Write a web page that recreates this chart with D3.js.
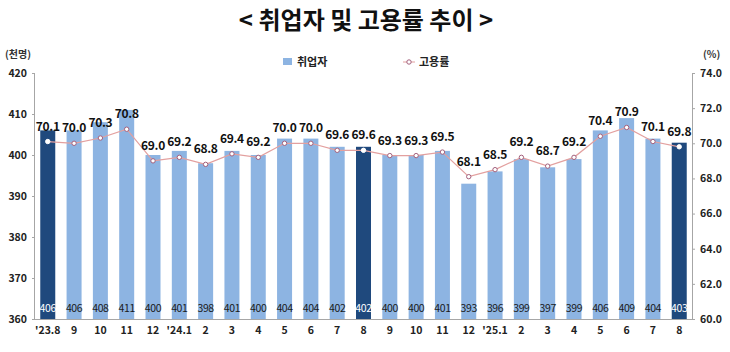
<!DOCTYPE html>
<html>
<head>
<meta charset="utf-8">
<script src="https://cdn.jsdelivr.net/npm/d3@7"></script>
<style>
  body { margin: 0; background: #fff; }
  svg text { font-family: "Noto Sans CJK KR", "Noto Sans", sans-serif; }
</style>
</head>
<body>
<div id="graph"></div>
<script>
// months on the x axis
const months = ["'23.8", "9", "10", "11", "12", "'24.1", "2", "3", "4", "5", "6", "7", "8",
  "9", "10", "11", "12", "'25.1", "2", "3", "4", "5", "6", "7", "8"]
// employed persons (thousands)
const employed = [406, 406, 408, 411, 400, 401, 398, 401, 400, 404, 404, 402, 402,
  400, 400, 401, 393, 396, 399, 397, 399, 406, 409, 404, 403]
// employment rate (%)
const rate = [70.1, 70.0, 70.3, 70.8, 69.0, 69.2, 68.8, 69.4, 69.2, 70.0, 70.0, 69.6, 69.6,
  69.3, 69.3, 69.5, 68.1, 68.5, 69.2, 68.7, 69.2, 70.4, 70.9, 70.1, 69.8]
const leftTicks = [360, 370, 380, 390, 400, 410, 420]
const rightTicks = [60, 62, 64, 66, 68, 70, 72, 74]

const width = 730, height = 352
const margin = { top: 73, right: 38, bottom: 33, left: 35 }
const gWidth = width - margin.left - margin.right
const gHeight = height - margin.top - margin.bottom

const lightBlue = "#8db4e2", darkBlue = "#1f497d"
const lineColor = "#e3a09f", markerStroke = "#a3607c"

const svg = d3.select('#graph').append("svg").attr("width", width).attr("height", height)

// title
svg.append("text").attr("x", 366).attr("y", 29).attr("text-anchor", "middle")
  .style("font-size", "24px").style("font-weight", "bold").attr("fill", "#111")
  .text("< 취업자 및 고용률 추이 >")

svg.append("text").attr("x", 5).attr("y", 58).style("font-size", "10px").style("font-weight", "bold")
  .attr("fill", "#333").text("(천명)")
svg.append("text").attr("x", 703).attr("y", 58).style("font-size", "10px").style("font-weight", "bold")
  .attr("fill", "#333").text("(%)")

// legend
svg.append("rect").attr("x", 283).attr("y", 58).attr("width", 9).attr("height", 7).attr("fill", lightBlue)
svg.append("text").attr("x", 297).attr("y", 66).style("font-size", "11px").style("font-weight", "bold")
  .attr("fill", "#222").text("취업자")
svg.append("line").attr("x1", 403).attr("x2", 415).attr("y1", 62).attr("y2", 62)
  .attr("stroke", lineColor).attr("stroke-width", 1)
svg.append("circle").attr("cx", 409).attr("cy", 62).attr("r", 2.2)
  .attr("fill", "#fff").attr("stroke", markerStroke).attr("stroke-width", 1)
svg.append("text").attr("x", 419).attr("y", 66).style("font-size", "11px").style("font-weight", "bold")
  .attr("fill", "#222").text("고용률")

const graph = svg.append('g').attr("transform", `translate(${margin.left}, ${margin.top})`)

const xScale = d3.scaleBand().domain(d3.range(months.length)).range([0, gWidth]).paddingInner(0.43).paddingOuter(0.2)
const yLeft = d3.scaleLinear().domain([360, 420]).range([gHeight, 0])
const yRight = d3.scaleLinear().domain([60, 74]).range([gHeight, 0])

// same month each year is drawn dark
const isDark = i => (i === 0 || i === 12 || i === 24)

// bars
graph.selectAll('rect.bar').data(employed).enter().append('rect')
  .attr("class", "bar")
  .attr("x", (d, i) => xScale(i))
  .attr("width", xScale.bandwidth())
  .attr("y", d => yLeft(d))
  .attr("height", d => gHeight - yLeft(d))
  .attr("fill", (d, i) => isDark(i) ? darkBlue : lightBlue)

// bar value labels near the bottom
graph.selectAll('text.bval').data(employed).enter().append('text')
  .attr("class", "bval")
  .attr("x", (d, i) => xScale(i) + xScale.bandwidth() / 2)
  .attr("y", gHeight - 7)
  .attr("text-anchor", "middle")
  .style("font-size", "10.5px").style("letter-spacing", "-0.4px")
  .attr("fill", (d, i) => isDark(i) ? "#fff" : "#1a1a1a")
  .text(d => d)

// axes
const leftAxis = graph.append('g').attr("class", "axis")
  .call(d3.axisLeft(yLeft).tickValues(leftTicks).tickSize(3).tickPadding(5))
const rightAxis = graph.append('g').attr("class", "axis").attr("transform", `translate(${gWidth}, 0)`)
  .call(d3.axisRight(yRight).tickValues(rightTicks).tickSize(3).tickPadding(5).tickFormat(d3.format(".1f")))
const bottomAxis = graph.append('g').attr("class", "axis").attr("transform", `translate(0, ${gHeight})`)
  .call(d3.axisBottom(xScale).tickSize(0).tickPadding(8).tickFormat(i => months[i]))

graph.selectAll('.axis path').attr("stroke", "#a6a6a6")
graph.selectAll('.axis line').attr("stroke", "#a6a6a6")
graph.selectAll('.axis text').style("font-size", "10.5px").style("font-weight", "bold").attr("fill", "#222")
  .style("font-family", "\"Noto Sans CJK KR\", sans-serif")
bottomAxis.select('path').attr("d", `M0,0.5H${gWidth}`)
leftAxis.select('path').attr("d", `M-0.5,0V${gHeight}`)
rightAxis.select('path').attr("d", `M0.5,0V${gHeight}`)

// rate line
const line = d3.line()
  .x((d, i) => xScale(i) + xScale.bandwidth() / 2)
  .y(d => yRight(d))
graph.append("path").datum(rate).attr("d", line)
  .attr("fill", "none").attr("stroke", lineColor).attr("stroke-width", 1.2)

graph.selectAll('circle.pt').data(rate).enter().append('circle')
  .attr("class", "pt")
  .attr("cx", (d, i) => xScale(i) + xScale.bandwidth() / 2)
  .attr("cy", d => yRight(d))
  .attr("r", 2.2)
  .attr("fill", "#fff")
  .attr("stroke", (d, i) => isDark(i) ? "#fff" : markerStroke)
  .attr("stroke-width", 1)

// rate labels
graph.selectAll('text.rval').data(rate).enter().append('text')
  .attr("class", "rval")
  .attr("x", (d, i) => xScale(i) + xScale.bandwidth() / 2)
  .attr("y", d => yRight(d) - 11)
  .attr("text-anchor", "middle")
  .style("font-size", "12px").style("font-weight", "bold").style("letter-spacing", "-0.3px")
  .attr("fill", "#111")
  .text(d => d.toFixed(1))
</script>
</body>
</html>
